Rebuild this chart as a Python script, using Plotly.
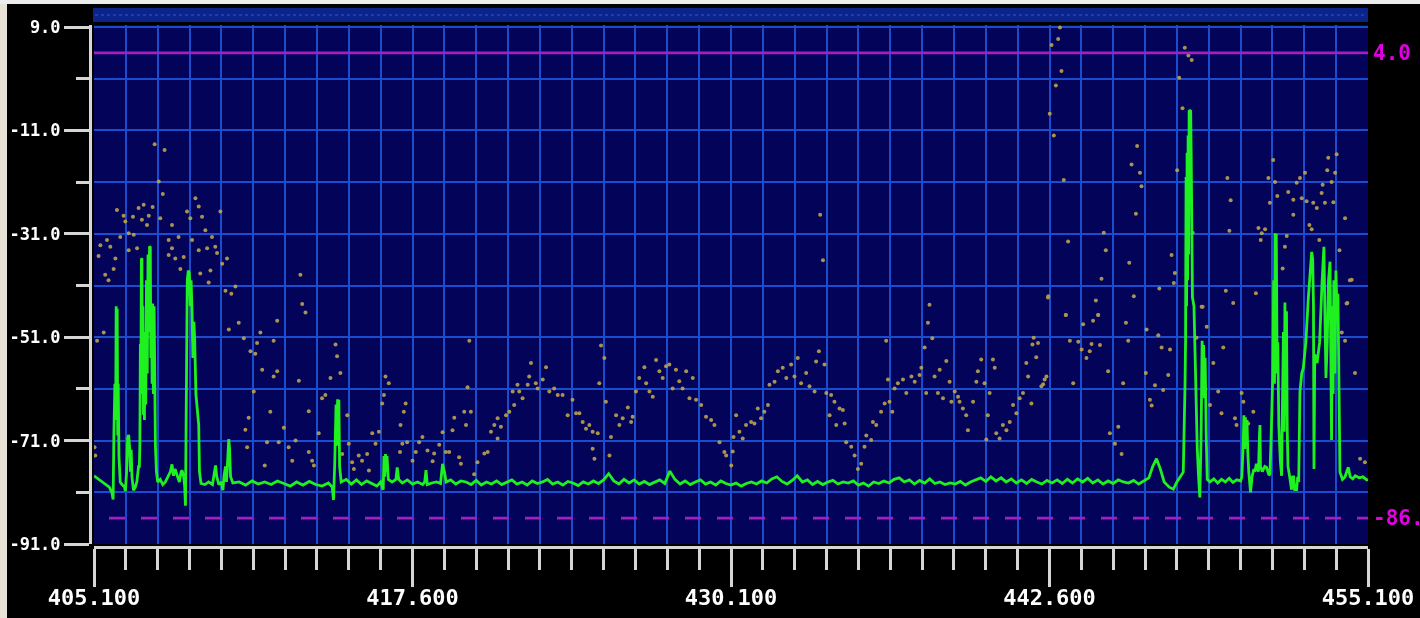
import plotly.graph_objects as go

# ---------------- axis ticks ----------------
xtick_vals = [405.1, 417.6, 430.1, 442.6, 455.1]
xtick_text = ["405.100", "417.600", "430.100", "442.600", "455.100"]
ytick_vals = [9, -11, -31, -51, -71, -91]
ytick_text = ["9.0", "-11.0", "-31.0", "-51.0", "-71.0", "-91.0"]
upper_limit = 4.0
lower_limit = -86.0

# ---------------- green trace (live spectrum) ----------------
trace_left_freq = [
    405.10, 405.30, 405.50, 405.70, 405.80, 405.85, 405.88, 405.92, 405.95, 405.97,
    405.99, 406.01, 406.03, 406.05, 406.08, 406.13, 406.20, 406.30, 406.33, 406.38,
    406.42, 406.46, 406.50, 406.53, 406.56, 406.59, 406.65, 406.72, 406.78, 406.85,
    406.88, 406.90, 406.92, 406.94, 406.96, 406.98, 407.00, 407.02, 407.04, 407.06,
    407.08, 407.10, 407.13, 407.16, 407.19, 407.22, 407.25, 407.28, 407.31, 407.33,
    407.35, 407.38, 407.40, 407.43, 407.46, 407.49, 407.51, 407.55, 407.60, 407.70,
    407.80, 407.90, 408.00, 408.10, 408.16, 408.22, 408.28, 408.36, 408.45, 408.52,
    408.56, 408.62, 408.66, 408.69, 408.71, 408.73, 408.76, 408.80, 408.84, 408.88,
    408.91, 408.95, 408.98, 409.02, 409.05, 409.10, 409.15, 409.21, 409.24, 409.30,
    409.45, 409.60, 409.75, 409.82, 409.87, 409.92, 410.00, 410.10, 410.16, 410.20,
    410.26, 410.30, 410.36, 410.39, 410.42, 410.46, 410.55,
]
trace_left_level = [
    -77.8, -78.5, -79.3, -80.0, -81.0, -82.4, -70.0, -60.0, -67.0, -45.0,
    -62.0, -45.5, -70.0, -60.0, -74.0, -79.0, -79.5, -80.0, -80.8, -77.0,
    -70.5, -69.9, -72.5, -77.0, -72.8, -78.0, -80.6, -80.0, -79.0, -76.0,
    -76.0, -72.0, -52.3, -60.0, -36.0, -35.7, -62.0, -45.0, -66.0, -52.0,
    -67.0, -50.0, -64.0, -40.0, -58.0, -35.0, -50.0, -33.4, -33.6, -55.0,
    -44.5, -60.0, -44.5, -62.0, -45.0, -70.0, -72.0, -77.0, -79.0, -78.5,
    -79.5, -79.0, -78.0, -77.0, -75.6, -77.8, -76.5, -77.5, -79.0, -77.0,
    -76.8, -78.0, -80.0, -83.6, -70.0, -60.0, -40.0, -38.1, -38.5, -45.0,
    -40.0, -46.3, -55.0, -48.0, -51.2, -62.0, -65.0, -68.0, -77.0, -79.3,
    -79.5, -79.0, -79.5, -77.0, -75.8, -78.0, -79.5, -79.0, -80.6, -78.0,
    -76.0, -79.0, -72.0, -70.7, -72.5, -78.0, -79.2,
]

trace_mid_freq = [
    410.80, 411.05, 411.30, 411.55, 411.80, 412.05, 412.30, 412.55, 412.80, 413.05,
    413.30, 413.55, 413.80, 414.05, 414.30, 414.45, 414.50, 414.55, 414.60, 414.63,
    414.66, 414.69, 414.71, 414.74, 414.80, 415.00, 415.20, 415.40, 415.60, 415.80,
    416.00, 416.20, 416.35, 416.45, 416.48, 416.51, 416.54, 416.57, 416.60, 416.65,
    416.80, 416.95, 417.00, 417.06, 417.20, 417.40, 417.60, 417.80, 418.00, 418.08,
    418.13, 418.18, 418.35, 418.55, 418.70, 418.75, 418.78, 418.85, 418.92,
    419.1, 419.3, 419.5, 419.7, 419.9, 420.1, 420.3, 420.5, 420.7, 420.9,
    421.1, 421.3, 421.5, 421.7, 421.9, 422.1, 422.3, 422.5, 422.7, 422.9,
    423.1, 423.3, 423.5, 423.7, 423.9, 424.1, 424.3, 424.5, 424.7, 424.9,
    425.1, 425.3, 425.5, 425.7, 425.9, 426.1, 426.3, 426.5, 426.7, 426.9,
    427.1, 427.3, 427.5, 427.7, 427.9, 428.1, 428.3, 428.5, 428.7, 428.9,
    429.1, 429.3, 429.5, 429.7, 429.9, 430.1, 430.3, 430.5, 430.7, 430.9,
    431.1, 431.3, 431.5, 431.7, 431.9, 432.1, 432.3, 432.5, 432.7, 432.9,
    433.1, 433.3, 433.5, 433.7, 433.9, 434.1, 434.3, 434.5, 434.7, 434.9,
    435.1, 435.3, 435.5, 435.7, 435.9, 436.1, 436.3, 436.5, 436.7, 436.9,
    437.1, 437.3, 437.5, 437.7, 437.9, 438.1, 438.3, 438.5, 438.7, 438.9,
    439.1, 439.3, 439.5, 439.7, 439.9, 440.1, 440.3, 440.5, 440.7, 440.9,
    441.1, 441.3, 441.5, 441.7, 441.9, 442.1, 442.3, 442.5, 442.7, 442.9,
    443.1, 443.3, 443.5, 443.7, 443.9, 444.1, 444.3, 444.5, 444.7, 444.9,
    445.1, 445.3, 445.5, 445.7, 445.9, 446.1, 446.3, 446.5,
    446.65, 446.80, 446.95, 447.10, 447.30, 447.46, 447.60, 447.75, 447.85,
]
trace_mid_level = [
    -79.0, -79.6, -78.8, -79.4, -79.0, -79.5, -78.8, -79.3, -79.8, -79.0,
    -79.6, -78.9, -79.5, -79.8, -79.2, -80.0, -82.5, -75.0, -64.0, -72.0,
    -63.0, -70.0, -63.1, -76.0, -79.0, -78.5, -79.4, -78.6, -79.5, -78.8,
    -79.3, -79.8, -79.0, -80.5, -74.0, -78.0, -73.6, -77.0, -74.0, -78.5,
    -79.0, -78.5, -76.2, -78.5, -79.2, -78.6, -79.4, -79.0, -79.5, -79.0,
    -76.7, -79.5, -79.2, -79.0, -79.3, -76.0, -75.5, -77.0, -79.0,
    -78.6, -79.4, -78.8, -79.0, -79.5, -78.7, -79.6, -79.0, -79.4, -78.8,
    -79.5, -79.0, -78.6, -79.4, -79.0, -79.6, -78.8, -79.3, -79.0, -78.5,
    -79.4, -79.0, -79.6, -78.9, -79.2, -79.7, -79.0, -79.4, -78.8, -79.3,
    -78.6, -77.4, -78.8, -79.4, -78.5, -79.2, -78.6, -79.4, -78.9, -79.5,
    -79.0, -78.6, -79.3, -76.9, -78.5, -79.4, -78.8, -79.5, -79.0, -78.6,
    -79.4, -79.0, -79.6, -78.8, -79.3, -79.6, -79.2, -79.8, -79.3, -79.0,
    -79.4, -78.8, -79.2, -78.4, -78.0, -78.9, -79.4, -78.7, -77.8, -79.0,
    -78.6, -79.5, -78.9, -79.5, -79.0, -78.7, -79.4, -79.0, -79.2, -78.8,
    -79.6, -79.2, -79.8, -79.0, -79.3, -78.8, -79.2, -78.5, -78.2, -79.0,
    -78.6, -79.4, -78.7, -79.2, -78.4, -79.3, -79.0, -79.5, -79.2, -79.4,
    -78.9, -79.6, -79.0, -78.6, -78.2, -78.9, -78.0, -78.8, -78.2, -79.0,
    -78.4, -79.2, -78.6, -79.3, -78.5, -79.0, -79.4, -78.7, -79.2, -78.6,
    -79.3, -78.5, -79.2, -78.4, -79.0, -78.3, -79.2, -78.6, -79.4, -78.8,
    -79.3, -78.6, -79.0, -79.2, -78.7, -79.4, -78.8, -78.2,
    -76.0, -74.5, -76.5, -79.0, -80.0, -80.4, -79.0, -78.0, -77.1,
]

trace_right_freq = [
    447.92, 447.94, 447.96, 447.98, 448.00, 448.02, 448.04, 448.06, 448.08, 448.14,
    448.16, 448.19, 448.21, 448.27, 448.33, 448.40, 448.45, 448.50, 448.55, 448.59,
    448.62, 448.65, 448.68, 448.71, 448.75, 448.79, 448.90, 449.05, 449.20, 449.35,
    449.50, 449.65, 449.80, 449.95, 450.10, 450.15, 450.20, 450.23, 450.26, 450.29,
    450.32, 450.35, 450.38, 450.42, 450.49, 450.55, 450.62, 450.66, 450.72, 450.80,
    450.84, 450.86, 450.88, 450.95, 451.05, 451.12, 451.20, 451.25, 451.30, 451.36,
    451.40, 451.43, 451.45, 451.48, 451.50, 451.53, 451.56, 451.60, 451.66, 451.71,
    451.74, 451.78, 451.81, 451.84, 451.87, 451.90, 451.93, 451.96, 452.02, 452.10,
    452.14, 452.18, 452.22, 452.30, 452.34, 452.38, 452.43, 452.50, 452.56, 452.66,
    452.76, 452.85, 452.89, 452.93, 452.96, 452.98, 453.01, 453.10, 453.20, 453.30,
    453.37, 453.42, 453.45, 453.50, 453.55, 453.61, 453.64, 453.67, 453.70, 453.73,
    453.76, 453.80, 453.84, 453.88, 453.92, 453.96, 454.00, 454.10, 454.20, 454.30,
    454.33, 454.40, 454.50, 454.60, 454.75, 454.90, 455.05, 455.10,
]
trace_right_level = [
    -60.0, -51.7, -20.0, -45.0, -15.3, -40.0, -12.0, -35.0, -7.3, -7.1,
    -15.3, -30.0, -43.3, -45.0, -60.0, -72.6, -78.0, -82.0, -70.0, -51.7,
    -62.0, -52.5, -62.8, -55.0, -70.0, -78.5, -79.0, -78.4, -79.2, -78.5,
    -79.0, -78.3, -79.1, -78.6, -78.8, -78.0, -72.0, -66.1, -72.6, -66.5,
    -72.0, -67.0, -73.0, -77.0, -81.0, -78.0, -76.5, -77.0, -75.5, -77.0,
    -70.0, -68.0, -76.0, -77.0, -76.0, -76.2, -77.5, -77.7, -70.0, -58.9,
    -40.0, -60.0, -30.9, -58.0, -31.0, -55.0, -52.0, -68.0, -75.0, -77.8,
    -65.0, -50.0, -69.3, -44.3, -66.0, -46.0, -69.0, -76.0, -77.8, -80.5,
    -78.0, -78.0, -80.5, -80.5, -78.0, -79.0, -61.5, -58.0, -57.0, -52.0,
    -43.3, -36.0, -34.5, -36.0, -45.0, -76.5, -54.3, -56.0, -52.0, -40.0,
    -33.5, -50.0, -58.9, -52.0, -40.0, -36.4, -60.0, -70.9, -45.0, -62.0,
    -40.0, -58.0, -38.1, -45.0, -42.6, -65.0, -77.1, -78.5, -78.0, -76.5,
    -76.2, -78.0, -78.4, -77.8, -78.2, -78.0, -78.6, -78.5,
]

# ---------------- gold dots (peak-hold samples) ----------------
dots_left_freq = [
    407.48, 407.87, 407.64, 407.80, 406.00, 406.26, 406.63, 406.85, 407.05, 407.25,
    407.40, 406.98, 407.18, 406.33, 406.13, 406.46, 406.66, 405.61, 405.35, 405.74,
    405.28, 405.94, 406.46, 406.79, 405.54, 405.67, 405.87, 408.03, 408.42, 408.16,
    408.03, 408.29, 408.49, 408.62, 407.70, 408.16, 408.75, 408.88, 409.08, 409.21,
    409.34, 408.95, 409.47, 409.21, 409.54, 409.73, 409.86, 409.93, 410.13, 410.32,
    409.27, 409.67, 409.60, 410.06, 410.26, 410.49, 410.65, 410.39, 410.78, 410.98,
    411.24, 411.43, 411.50, 411.63, 412.15, 412.29, 411.70, 412.15, 412.29, 413.27,
    413.40, 413.20, 411.37, 413.14, 411.17, 411.04, 412.02, 412.55, 411.11, 411.89,
    411.80, 412.35, 412.88, 413.01, 412.74, 413.53, 413.66, 413.73, 414.05, 413.92,
    414.18, 414.38, 414.58, 414.64, 414.77, 415.04, 413.53, 414.84, 415.10, 415.23,
    415.30, 415.49, 415.62, 415.82, 415.89, 416.02, 416.15, 416.28, 416.41, 416.54,
    416.67, 416.48, 417.13, 417.26, 417.33, 417.20, 417.11, 417.39, 405.12, 405.15,
    405.22, 405.48,
]
dots_left_level = [
    -13.7, -14.8, -20.9, -23.3, -26.4, -27.5, -27.7, -26.0, -25.4, -27.5,
    -25.8, -28.3, -29.3, -28.6, -31.6, -30.9, -31.2, -32.2, -33.2, -33.5,
    -35.3, -35.8, -34.2, -33.8, -38.9, -40.0, -37.8, -32.2, -31.6, -33.8,
    -35.1, -35.8, -37.8, -35.5, -28.0, -29.3, -26.7, -28.0, -24.1, -25.7,
    -27.7, -32.2, -30.3, -34.2, -33.8, -31.6, -33.5, -34.7, -36.8, -35.8,
    -38.7, -38.1, -40.4, -26.7, -42.0, -42.6, -41.2, -49.5, -48.2, -51.2,
    -53.7, -54.2, -52.1, -50.1, -51.7, -47.8, -57.3, -58.6, -57.6, -44.6,
    -46.2, -38.9, -61.5, -59.4, -66.6, -68.9, -65.4, -68.5, -72.3, -71.3,
    -75.8, -71.3, -74.9, -71.0, -72.3, -73.2, -74.9, -75.8, -62.8, -69.6,
    -62.2, -58.9, -52.4, -54.7, -57.9, -66.1, -65.3, -73.6, -71.6, -75.2,
    -76.5, -73.9, -74.9, -73.6, -76.8, -69.6, -71.6, -69.3, -63.8, -58.6,
    -59.9, -62.2, -68.0, -65.4, -63.8, -71.6, -73.2, -71.3, -72.3, -73.9,
    -51.7, -50.1,
]

dots_centre_freq = [
    419.83, 419.76, 419.63, 419.89, 419.70, 419.24, 419.17, 418.78, 417.99, 417.86,
    417.73, 417.60, 418.19, 418.45, 418.39, 418.65, 418.91, 419.04, 419.43, 419.50,
    420.15, 420.42, 420.55, 420.02, 420.68, 420.81, 420.94, 421.07, 420.94, 421.27,
    421.40, 421.59, 421.53, 421.79, 421.92, 421.72, 422.12, 422.25, 422.18, 422.44,
    422.51, 422.71, 422.84, 422.97, 423.16, 423.30, 423.49, 423.69, 423.88, 424.02,
    424.15, 424.28, 424.41, 424.54, 424.67, 424.87, 424.67, 424.74, 424.93, 425.00,
    425.13, 425.19, 425.33, 425.39, 425.59, 425.72, 425.85, 426.05, 426.18, 426.24,
    426.37, 426.50, 426.70, 426.77, 426.90, 427.03, 427.16, 427.29, 427.42, 427.55,
    427.68, 427.81, 427.94, 428.07, 428.20, 428.34, 428.60, 428.47, 428.73, 428.93,
    429.12, 429.32, 429.45, 429.65, 429.84, 429.91,
    433.60, 433.71, 430.17, 430.11, 430.30, 430.20, 430.43, 430.56, 430.69, 430.89,
    431.02, 431.15, 431.28, 431.41, 431.55, 431.61, 431.81, 431.94, 432.13, 432.27,
    432.46, 432.59, 432.72, 432.85, 433.05, 433.18, 433.38, 433.44, 433.55, 433.77,
    433.84, 434.03, 433.97, 434.16, 434.36, 434.49, 434.23, 434.56, 434.62, 434.82,
    434.95, 435.08, 435.21, 435.34, 435.41, 435.60, 435.67, 435.80, 435.99, 436.13,
    436.32, 436.43, 436.19, 436.26, 436.52, 436.65, 436.85, 436.98, 437.18, 437.31,
    437.50, 437.57, 437.70, 437.83, 437.89, 438.00, 437.76, 438.09, 438.22, 438.29,
    438.42, 438.55, 438.68, 438.75, 438.88, 439.01, 439.07, 439.20, 439.33, 439.40,
    439.60, 439.73, 439.79, 439.92, 440.05, 440.12, 440.18, 440.25, 440.38, 440.45,
    440.51, 440.64, 440.77, 440.91, 441.04, 441.17, 441.30, 441.43, 441.56, 441.69,
    441.76, 441.89, 441.93, 441.98, 442.08, 442.15, 442.28, 442.41, 442.54,
]
dots_centre_level = [
    -51.7, -60.7, -65.4, -65.4, -68.0, -66.6, -69.0, -69.4, -70.3, -71.3,
    -73.2, -74.9, -72.9, -73.5, -75.0, -71.8, -73.2, -73.2, -74.2, -75.5,
    -75.2, -73.5, -73.2, -77.5, -69.3, -68.0, -66.7, -68.3, -70.6, -66.1,
    -65.4, -64.1, -61.5, -61.5, -62.8, -60.2, -60.2, -56.0, -58.6, -59.9,
    -60.9, -59.2, -56.8, -61.5, -60.9, -62.2, -62.2, -66.1, -63.1, -65.7,
    -65.7, -67.4, -68.7, -68.0, -69.3, -69.6, -72.6, -74.5, -59.9, -52.6,
    -55.0, -63.5, -73.9, -70.3, -66.1, -68.0, -66.7, -64.6, -67.4, -66.4,
    -61.5, -58.9, -56.8, -59.9, -61.5, -62.5, -55.4, -57.6, -58.9, -56.6,
    -56.3, -60.9, -57.3, -59.5, -60.9, -57.6, -58.9, -62.8, -63.1, -64.1,
    -66.4, -67.0, -68.0, -71.3, -73.2, -73.9,
    -27.3, -36.1, -73.1, -75.8, -66.1, -70.3, -69.3, -70.6, -68.0, -67.4,
    -67.7, -64.8, -66.7, -65.4, -64.1, -60.2, -59.6, -57.6, -56.9, -58.9,
    -56.3, -58.6, -55.0, -59.9, -57.9, -60.5, -61.5, -55.7, -53.7, -56.3,
    -61.8, -62.2, -66.1, -63.5, -64.8, -65.1, -68.0, -67.7, -71.3, -72.2,
    -73.9, -76.5, -75.5, -72.2, -70.0, -70.9, -67.4, -68.0, -65.4, -63.8,
    -63.5, -65.4, -51.7, -59.2, -60.9, -59.9, -59.2, -61.8, -58.6, -59.6,
    -58.3, -56.9, -53.0, -48.2, -44.7, -51.2, -61.8, -58.6, -61.8, -57.3,
    -62.8, -55.6, -59.6, -63.5, -61.5, -62.5, -63.5, -64.8, -66.1, -69.0,
    -63.5, -59.6, -57.6, -55.3, -59.9, -70.8, -66.1, -61.8, -55.3, -56.9,
    -69.6, -70.6, -68.0, -69.0, -67.4, -64.1, -65.7, -62.8, -61.8, -56.0,
    -58.6, -63.8, -52.4, -51.1, -54.9, -52.1, -60.5, -59.2, -43.3,
]

dots_right_freq = [
    443.01, 442.94, 442.68, 443.07, 442.85, 442.61, 442.77, 443.16, 443.33, 442.55,
    443.24, 446.04, 445.82, 446.15, 446.21, 445.99, 444.73, 444.81, 444.64, 444.42,
    444.51, 445.73, 445.91, 446.91, 447.39, 447.52, 447.48, 447.61, 447.69, 447.82,
    447.91, 448.05, 448.18, 448.22, 448.61, 449.52, 449.81, 449.58, 449.71, 449.66,
    450.70, 450.80, 450.93, 451.06, 450.89, 451.19, 451.25, 451.38, 451.45, 451.54,
    451.84, 451.75, 451.91, 451.97, 452.17, 452.30, 452.43, 452.63, 452.17, 452.50,
    452.69, 452.95, 453.09, 452.80, 452.89, 453.19, 453.28, 453.32, 453.41, 453.54,
    453.50, 453.67, 453.81, 453.87, 453.74, 454.20, 453.98, 454.46, 454.29, 454.39,
    443.24, 443.92, 444.31, 444.51, 445.60, 446.41, 446.87, 443.40, 443.73, 444.25,
    444.58, 445.69, 443.86, 444.18, 444.05, 447.00, 447.33, 442.48, 442.35, 443.53,
    444.90, 446.38, 447.26, 445.49, 446.74, 447.06, 446.54, 446.61, 445.30, 444.97,
    445.17, 445.43, 448.57, 448.77, 448.37, 449.42, 449.03, 448.90, 449.22, 449.35,
    449.88, 450.14, 450.21, 449.94, 450.40, 450.60, 454.26, 454.07, 454.20, 454.59,
    454.79, 454.98,
]
dots_right_level = [
    8.9, 6.7, 5.5, 0.5, -2.3, -7.8, -12.0, -20.6, -32.5, -43.1,
    -46.7, -14.0, -17.6, -19.2, -21.8, -27.1, -30.8, -34.2, -39.7, -43.9,
    -46.7, -36.6, -43.1, -41.6, -35.1, -38.6, -40.5, -18.7, -0.8, -6.7,
    5.0, 3.5, 2.6, -30.8, -45.1, -42.0, -44.4, -20.2, -24.5, -30.4,
    -42.5, -29.9, -30.9, -30.1, -32.2, -20.2, -25.0, -16.7, -21.0, -23.7,
    -33.5, -37.7, -31.4, -22.9, -24.4, -21.1, -20.2, -19.2, -27.3, -24.1,
    -24.7, -25.0, -26.0, -29.3, -30.1, -32.2, -23.1, -21.5, -25.0, -16.3,
    -18.7, -21.0, -19.2, -15.6, -24.9, -28.0, -34.2, -39.9, -44.4, -40.0,
    -46.7, -48.5, -47.8, -46.7, -48.2, -49.5, -50.6, -51.7, -51.9, -52.3,
    -52.5, -51.7, -53.4, -53.7, -55.0, -53.0, -53.4, -58.6, -60.1, -59.9,
    -57.6, -57.9, -58.3, -59.9, -60.3, -61.2, -63.1, -64.2, -68.3, -69.6,
    -71.6, -73.6, -45.1, -49.0, -51.1, -53.0, -56.0, -64.1, -61.5, -65.7,
    -66.7, -61.8, -63.5, -68.0, -67.7, -65.4, -44.5, -50.1, -51.7, -57.9,
    -74.5, -75.2,
]

for a, b in [(trace_left_freq, trace_left_level), (trace_mid_freq, trace_mid_level),
             (trace_right_freq, trace_right_level), (dots_left_freq, dots_left_level),
             (dots_centre_freq, dots_centre_level), (dots_right_freq, dots_right_level)]:
    assert len(a) == len(b), (len(a), len(b))

trace_freq = trace_left_freq + trace_mid_freq + trace_right_freq
trace_level = trace_left_level + trace_mid_level + trace_right_level
dot_freq = dots_left_freq + dots_centre_freq + dots_right_freq
dot_level = dots_left_level + dots_centre_level + dots_right_level

# ---------------- styling ----------------
NAVY = "#03035a"
GRID = "rgb(26,76,205)"
AXIS = "#d6d6d6"
MAGENTA_LINE = "rgb(168,28,196)"
MAGENTA_TEXT = "rgb(226,0,226)"
FONT = "DejaVu Sans Mono"

W, H = 1420, 618
ML, MR, MT, MB = 90, 52, 25, 71
PW = W - ML - MR
PH = H - MT - MB

fig = go.Figure()
fig.add_trace(go.Scatter(
    x=dot_freq, y=dot_level, mode="markers",
    marker=dict(size=4, color="rgb(190,164,78)", line=dict(width=0)),
    opacity=0.9, hoverinfo="skip", showlegend=False,
))
fig.add_trace(go.Scatter(
    x=trace_freq, y=trace_level, mode="lines",
    line=dict(color="#1ff01f", width=2.8),
    hoverinfo="skip", showlegend=False,
))

# limit lines
fig.add_shape(type="line", xref="x domain", yref="y", x0=0, x1=1,
              y0=upper_limit, y1=upper_limit,
              line=dict(color=MAGENTA_LINE, width=2.6))
fig.add_shape(type="line", xref="x domain", yref="y", x0=15 / 1274, x1=1,
              y0=lower_limit, y1=lower_limit,
              line=dict(color=MAGENTA_LINE, width=2.6, dash="16px,16px"))

fig.add_annotation(xref="paper", yref="y", x=1, y=upper_limit, xanchor="left",
                   xshift=3, text="%.1f" % upper_limit, showarrow=False,
                   font=dict(family=FONT, size=21, color=MAGENTA_TEXT, weight="bold"))
fig.add_annotation(xref="paper", yref="y", x=1, y=lower_limit, xanchor="left",
                   xshift=3, text="%.1f" % lower_limit, showarrow=False,
                   font=dict(family=FONT, size=21, color=MAGENTA_TEXT, weight="bold"))

def px_x(p):
    return (p - ML) / PW

def px_y(p):
    return (H - MB - p) / PH

# top status strip
fig.add_shape(type="rect", xref="paper", yref="paper",
              x0=px_x(93), x1=px_x(1368), y0=px_y(22), y1=px_y(8),
              fillcolor="rgb(10,36,140)", line=dict(width=0), layer="below")
fig.add_shape(type="line", xref="paper", yref="paper",
              x0=px_x(95), x1=px_x(1366), y0=px_y(15), y1=px_y(15),
              line=dict(color="rgb(40,90,200)", width=1, dash="dot"))
# photo bezel edges
fig.add_shape(type="rect", xref="paper", yref="paper",
              x0=px_x(0), x1=px_x(7), y0=px_y(H), y1=px_y(0),
              fillcolor="rgb(232,226,214)", line=dict(width=0))
fig.add_shape(type="rect", xref="paper", yref="paper",
              x0=px_x(0), x1=px_x(W), y0=px_y(4), y1=px_y(0),
              fillcolor="rgb(236,236,236)", line=dict(width=0))

xdom0 = 4 / PW
ydom0 = 3 / PH

fig.update_layout(
    width=W, height=H, autosize=False,
    margin=dict(l=ML, r=MR, t=MT, b=MB, pad=0, autoexpand=False),
    paper_bgcolor="black", plot_bgcolor=NAVY,
    showlegend=False,
    xaxis=dict(
        range=[405.1, 455.1], domain=[xdom0, 1], anchor="free", position=0,
        automargin=False,
        tickmode="array", tickvals=xtick_vals, ticktext=xtick_text,
        ticks="outside", ticklen=38, tickwidth=3, tickcolor=AXIS,
        ticklabelstandoff=-8,
        showline=True, linecolor=AXIS, linewidth=3,
        showgrid=True, gridcolor=GRID, gridwidth=1.8, zeroline=False,
        tickfont=dict(family=FONT, size=22, color="white", weight="bold"),
        minor=dict(tickmode="linear", tick0=405.1, dtick=1.25, ticks="outside",
                   ticklen=21, tickwidth=3, tickcolor=AXIS,
                   showgrid=True, gridcolor=GRID, gridwidth=1.8),
        fixedrange=True,
    ),
    yaxis=dict(
        range=[-91, 9.39], domain=[ydom0, 1], anchor="free", position=0,
        automargin=False,
        tickmode="array", tickvals=ytick_vals, ticktext=ytick_text,
        ticks="outside", ticklen=25, tickwidth=3, tickcolor=AXIS,
        showline=True, linecolor=AXIS, linewidth=3,
        showgrid=True, gridcolor=GRID, gridwidth=1.8, zeroline=False,
        tickfont=dict(family=FONT, size=17, color="white", weight="bold"),
        minor=dict(tickmode="linear", tick0=9, dtick=10, ticks="outside",
                   ticklen=13, tickwidth=3, tickcolor=AXIS,
                   showgrid=True, gridcolor=GRID, gridwidth=1.8),
        fixedrange=True,
    ),
)

fig.write_html(
    "out.html",
    config={"displayModeBar": False, "responsive": False},
    post_script="document.body.style.margin='0px';document.body.style.overflow='hidden';",
)
